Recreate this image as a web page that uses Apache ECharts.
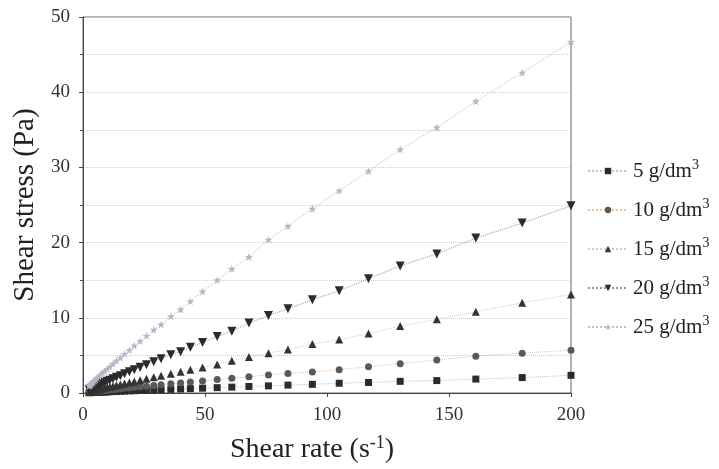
<!DOCTYPE html>
<html>
<head>
<meta charset="utf-8">
<script src="https://cdn.jsdelivr.net/npm/echarts@6/dist/echarts.min.js"></script>
<style>
  html, body { margin: 0; padding: 0; background: #fff; }
  #chart { width: 719px; height: 469px; }
</style>
</head>
<body>
<div id="chart"></div>
<script>
// shear rate (s^-1), log sweep
const shearRate = [200, 180, 161, 145, 130, 117, 105, 94, 84, 76, 68, 61, 55, 49, 44, 40, 36, 32, 29, 26,
  23.4, 21, 19, 17, 15.3, 13.7, 12.3, 11, 9.9, 8.9, 8, 7.2, 6.5, 5.8, 5.2, 4.7, 4.2, 3.8, 3.4, 3.1, 2.8, 2.5];

// shear stress (Pa) per concentration
const stress5 = [2.35, 2.05, 1.85, 1.65, 1.55, 1.4, 1.3, 1.15, 1.05, 0.95, 0.87, 0.78, 0.71, 0.64, 0.58, 0.53, 0.49, 0.44, 0.40, 0.37,
  0.33, 0.30, 0.28, 0.25, 0.23, 0.21, 0.19, 0.17, 0.155, 0.14, 0.13, 0.115, 0.105, 0.095, 0.086, 0.079, 0.071, 0.065, 0.059, 0.054, 0.05, 0.045];
const stress10 = [5.7, 5.3, 4.9, 4.4, 3.9, 3.5, 3.1, 2.8, 2.6, 2.4, 2.16, 1.96, 1.78, 1.61, 1.46, 1.34, 1.22, 1.09, 1.0, 0.91,
  0.83, 0.75, 0.68, 0.62, 0.56, 0.51, 0.46, 0.42, 0.38, 0.35, 0.31, 0.29, 0.26, 0.24, 0.21, 0.20, 0.18, 0.16, 0.15, 0.13, 0.12, 0.11];
const stress15 = [13.1, 12.0, 10.8, 9.8, 8.9, 7.9, 7.1, 6.5, 5.8, 5.3, 4.8, 4.3, 3.8, 3.4, 3.1, 2.84, 2.57, 2.30, 2.09, 1.89,
  1.71, 1.54, 1.40, 1.26, 1.14, 1.03, 0.93, 0.83, 0.75, 0.68, 0.62, 0.56, 0.51, 0.45, 0.41, 0.37, 0.33, 0.30, 0.27, 0.25, 0.23, 0.20];
const stress20 = [24.9, 22.6, 20.6, 18.5, 16.9, 15.2, 13.6, 12.4, 11.2, 10.3, 9.3, 8.2, 7.5, 6.7, 6.1, 5.5, 5.1, 4.57, 4.17, 3.77,
  3.42, 3.10, 2.82, 2.55, 2.31, 2.09, 1.89, 1.70, 1.55, 1.40, 1.27, 1.15, 1.05, 0.94, 0.85, 0.78, 0.70, 0.64, 0.57, 0.53, 0.48, 0.43];
const stress25 = [46.7, 42.6, 38.8, 35.3, 32.4, 29.5, 26.9, 24.5, 22.2, 20.4, 18.1, 16.5, 15.0, 13.5, 12.2, 11.1, 10.2, 9.1, 8.4, 7.6,
  6.9, 6.3, 5.7, 5.2, 4.7, 4.3, 3.9, 3.5, 3.2, 2.9, 2.7, 2.4, 2.2, 2.0, 1.8, 1.65, 1.5, 1.37, 1.24, 1.14, 1.04, 0.94];

const seriesNames = ['5 g/dm3', '10 g/dm3', '15 g/dm3', '20 g/dm3', '25 g/dm3'];
const xTicks = [0, 50, 100, 150, 200];
const yTicks = [0, 10, 20, 30, 40, 50];

const serif = '"Liberation Serif", "DejaVu Serif", serif';
const starPath = 'path://M5,0 L6.2,3.8 L10,3.8 L7,6.2 L8.1,10 L5,7.7 L1.9,10 L3,6.2 L0,3.8 L3.8,3.8 Z';

function pairs(ys) {
  return shearRate.map((x, i) => [x, ys[i]]);
}

function mkSeries(name, ys, symbol, size, color, lineColor, rotate) {
  return {
    name: name,
    type: 'line',
    data: pairs(ys),
    symbol: symbol,
    symbolSize: size,
    symbolRotate: rotate || 0,
    showAllSymbol: true,
    itemStyle: { color: color },
    lineStyle: { color: lineColor, width: 1, type: 'dotted' },
    emphasis: { disabled: true },
    z: 3
  };
}

const chart = echarts.init(document.getElementById('chart'), null, { renderer: 'canvas' });

const option = {
  backgroundColor: '#fff',
  animation: false,
  grid: {
    left: 83, right: 148, top: 17, bottom: 74,
    show: true, borderColor: '#666', borderWidth: 1, backgroundColor: 'transparent'
  },
  legend: {
    orient: 'vertical',
    left: 582, top: 153,
    itemGap: 13,
    itemWidth: 40, itemHeight: 8,
    data: seriesNames,
    formatter: function (n) { return '{a|' + n.slice(0, -1) + '}{s|3}'; },
    textStyle: {
      fontFamily: serif, color: '#222',
      rich: {
        a: { fontFamily: serif, fontSize: 21, color: '#222', lineHeight: 26 },
        s: { fontFamily: serif, fontSize: 14, color: '#222', verticalAlign: 'top', lineHeight: 26, padding: [0, 0, 12, 0] }
      }
    }
  },
  xAxis: {
    type: 'value', min: 0, max: 200, interval: 50,
    name: '{a|Shear rate (s}{s|-1}{a|)}',
    nameLocation: 'middle', nameGap: 41,
    nameTextStyle: {
      padding: [0, 30, 0, 0],
      rich: {
        a: { fontFamily: serif, fontSize: 28, color: '#222' },
        s: { fontFamily: serif, fontSize: 18, color: '#222', verticalAlign: 'top', padding: [0, 0, 14, 0] }
      }
    },
    axisLine: { lineStyle: { color: '#444' } },
    axisTick: { show: true, length: 4, lineStyle: { color: '#444' } },
    axisLabel: { fontFamily: serif, fontSize: 19, color: '#333', margin: 13,
      formatter: v => xTicks.includes(v) ? String(v) : '' },
    splitLine: { show: false }
  },
  yAxis: {
    type: 'value', min: 0, max: 50, interval: 10,
    name: 'Shear stress (Pa)',
    nameLocation: 'middle', nameGap: 40, nameRotate: 90,
    nameTextStyle: { fontFamily: serif, fontSize: 29, color: '#222' },
    axisLine: { show: true, lineStyle: { color: '#444' } },
    axisTick: { show: true, length: 4, lineStyle: { color: '#444' } },
    minorTick: { show: true, splitNumber: 2, length: 3, lineStyle: { color: '#555' } },
    axisLabel: { fontFamily: serif, fontSize: 19, color: '#333', margin: 13,
      formatter: v => yTicks.includes(v) ? String(v) : '' },
    splitLine: { show: true, lineStyle: { color: '#c8cdd6', type: 'dotted', width: 1 } },
    minorSplitLine: { show: true, lineStyle: { color: '#c8cdd6', type: 'dotted', width: 1 } }
  },
  series: [
    mkSeries(seriesNames[0], stress5, 'rect', 7, '#2b2b2b', '#a9c8ea'),
    mkSeries(seriesNames[1], stress10, 'circle', 7, '#5a5a5a', '#ecc293'),
    mkSeries(seriesNames[2], stress15, 'triangle', 8, '#333', '#c9ccd2'),
    mkSeries(seriesNames[3], stress20, 'triangle', 9, '#2b2b2b', '#8d95a6', 180),
    mkSeries(seriesNames[4], stress25, starPath, 8, '#b2b6c6', '#bcc2d0')
  ]
};

chart.setOption(option);
</script>
</body>
</html>
